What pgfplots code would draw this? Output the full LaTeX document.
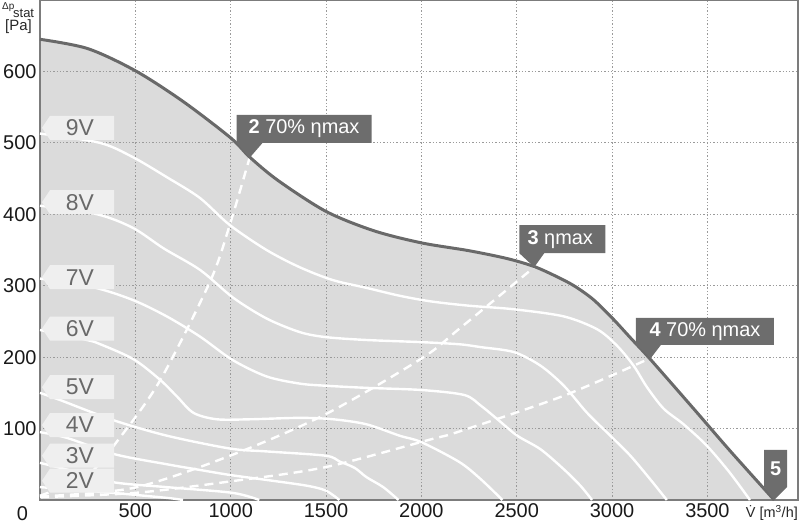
\documentclass[border=0pt]{standalone}
\usepackage{fontspec}
\setmainfont{Liberation Sans}
\usepackage{pgfplots}
\pgfplotsset{compat=1.18}
\usetikzlibrary{calc}

\definecolor{areagray}{HTML}{DBDBDB}
\definecolor{curvegray}{HTML}{696969}
\definecolor{boxgray}{HTML}{6D6D6D}
\definecolor{labfill}{HTML}{EFEFEF}
\definecolor{labtext}{HTML}{696969}
\definecolor{gridgray}{HTML}{9A9A9A}
\definecolor{framegray}{HTML}{7C7C7C}

\newcommand{\fs}[1]{\fontsize{#1}{#1}\selectfont}
% voltage tag, arrow pointing to the left axis
\newcommand{\vlab}[2]{%
  \fill[labfill] ([xshift=2bp]axis cs:0,#1) -- ++(8bp,12bp) -- ++(64bp,0) -- ++(0,-24bp) -- ++(-64bp,0) -- cycle;
  \node[text=labtext,font=\fs{23},inner sep=0] at ([xshift=40bp]axis cs:0,#1) {#2};}

\begin{document}
\begin{tikzpicture}
\begin{axis}[
  at={(0,0)}, anchor=south west,
  scale only axis, width=758bp, height=500bp,
  xmin=0, xmax=3975, ymin=0, ymax=700,
  xtick={500,1000,...,3500}, ytick={100,200,...,600},
  grid=major,
  major grid style={gridgray, line width=0.8bp, dash pattern=on 1.3bp off 2bp},
  major tick length=0pt,
  axis line style={framegray, line width=1.6bp},
  tick label style={font=\fs{20}, text=black!90},
  /pgf/number format/assume math mode=true,
  /pgf/number format/1000 sep={},
  set layers, clip=false, no markers,
]

% area under the fan curve
\addplot[on layer=axis background, fill=areagray, draw=none, smooth] coordinates {
  (0,645) (250,632) (500,601) (750,558) (1000,507) (1100,480) (1250,447) (1500,404)
  (1750,377) (2000,360) (2250,349) (2450,338) (2590,327) (2700,314) (2800,300)
  (2900,281) (3000,255) (3100,226) (3204,196) (3440,124) (3615,70) (3850,0)} \closedcycle;

% system curves (dashed)
\addplot[white, line width=2.4bp, dash pattern=on 9bp off 6bp, smooth] coordinates {
  (0,6) (250,35) (421,88) (631,168) (892,306) (995,385) (1099,479)};
\addplot[white, line width=2.4bp, dash pattern=on 9bp off 6bp, smooth] coordinates {
  (0,5) (491,17) (997,62) (1497,120) (2000,198) (2200,240) (2592,326)};
\addplot[white, line width=2.4bp, dash pattern=on 9bp off 6bp, smooth] coordinates {
  (0,4) (500,10) (997,26) (1497,46) (2051,85) (2200,96) (2747,146) (3204,199)};

% speed curves 2V ... 9V
\addplot[white, line width=2.4bp, smooth] coordinates {
  (0,513) (314,500) (487,480) (665,452) (838,423) (995,385) (1188,350) (1361,326)
  (1534,308) (1712,297) (1885,286) (2051,278) (2250,272) (2486,267) (2747,257)
  (2922,239) (3026,216) (3113,188) (3183,158) (3270,128) (3375,106) (3497,76)
  (3618,38) (3723,0)};
\addplot[white, line width=2.4bp, smooth] coordinates {
  (0,412) (300,400) (487,381) (650,352) (840,322) (1014,283) (1189,254) (1363,235)
  (1500,228) (1712,224) (2000,221) (2200,218) (2312,214) (2486,207) (2625,188)
  (2747,160) (2869,122) (2991,90) (3096,62) (3200,29) (3287,0)};
\addplot[white, line width=2.4bp, smooth] coordinates {
  (0,310) (277,298) (487,280) (665,257) (838,229) (1010,196) (1188,173) (1361,163)
  (1497,160) (1712,157) (2000,154) (2225,147) (2312,132) (2399,113) (2503,90)
  (2625,71) (2747,43) (2834,20) (2895,0)};
\addplot[white, line width=2.4bp, smooth] coordinates {
  (0,238) (246,224) (317,218) (491,197) (631,168) (718,145) (805,122) (927,113)
  (1102,113) (1363,115) (1538,113) (1712,106) (1886,90) (2000,81) (2200,53)
  (2312,29) (2425,0)};
\addplot[white, line width=2.4bp, smooth] coordinates {
  (0,150) (105,140) (382,112) (666,90) (997,72) (1189,68) (1498,62) (1570,54)
  (1650,45) (1712,32) (1800,18) (1880,0)};
\addplot[white, line width=2.4bp, smooth] coordinates {
  (0,95) (141,87) (393,64) (666,50) (840,42) (997,35) (1190,28) (1400,20)
  (1500,13) (1570,0)};
\addplot[white, line width=2.4bp, smooth] coordinates {
  (0,52) (150,42) (382,25) (665,18) (1010,10) (1150,0)};
\addplot[white, line width=2.4bp, smooth] coordinates {
  (0,18) (200,14) (382,10) (665,3) (750,0)};

% fan curve
\addplot[curvegray, line width=3bp, smooth] coordinates {
  (0,645) (250,632) (500,601) (750,558) (1000,507) (1100,480) (1250,447) (1500,404)
  (1750,377) (2000,360) (2250,349) (2450,338) (2590,327) (2700,314) (2800,300)
  (2900,281) (3000,255) (3100,226) (3204,196) (3440,124) (3615,70) (3850,0)};

\vlab{521}{9V}
\vlab{417}{8V}
\vlab{312}{7V}
\vlab{240}{6V}
\vlab{158}{5V}
\vlab{105}{4V}
\vlab{62}{3V}
\vlab{27}{2V}

% operating point tags
\coordinate (P2) at (axis cs:1099,479);
\fill[boxgray] (P2) -- ++(-13bp,15bp) -- ++(0,28bp) -- ++(135bp,0) -- ++(0,-28bp) -- ++(-109bp,0) -- cycle;
\node[text=white, font=\fs{20}, inner sep=0] at ($(P2)+(54.5bp,29bp)$) {\textbf{2} 70\% ηmax};

\coordinate (P3) at (axis cs:2592,326);
\fill[boxgray] (P3) -- ++(-15bp,14bp) -- ++(0,28bp) -- ++(86bp,0) -- ++(0,-28bp) -- ++(-61bp,0) -- cycle;
\node[text=white, font=\fs{20}, inner sep=0] at ($(P3)+(26bp,28bp)$) {\textbf{3} ηmax};

\coordinate (P4) at (axis cs:3204,199);
\fill[boxgray] (P4) -- ++(-15bp,13bp) -- ++(0,27bp) -- ++(138bp,0) -- ++(0,-27bp) -- ++(-113bp,0) -- cycle;
\node[text=white, font=\fs{20}, inner sep=0] at ($(P4)+(54bp,26.5bp)$) {\textbf{4} 70\% ηmax};

\coordinate (P5) at (axis cs:3850,0);
\fill[boxgray] (P5) -- ++(-10bp,13bp) -- ++(0,37bp) -- ++(23bp,0) -- ++(0,-37bp) -- cycle;
\node[text=white, font=\bfseries\fs{20}, inner sep=0] at ($(P5)+(1.5bp,31bp)$) {5};
\end{axis}

% axis texts
\node[font=\fs{20}, text=black!90, inner sep=0] at (-17.5bp,-14bp) {0};
\node[anchor=base west, font=\fs{10}, text=black!85, inner sep=0] at (-38bp,490bp) {Δp};
\node[anchor=base west, font=\fs{13}, text=black!85, inner sep=0] at (-27bp,482bp) {stat};
\node[anchor=base east, font=\fs{15}, text=black!85, inner sep=0] at (-8bp,469bp) {[Pa]};
\node[anchor=base east, font=\fs{14.5}, text=black!85, inner sep=0] at (758bp,-17.5bp) {\.{V} [m\textsuperscript{3}/h]};

\pgfresetboundingbox
\path[use as bounding box] (-40bp,-26bp) rectangle (760bp,500bp);
\end{tikzpicture}
\end{document}
